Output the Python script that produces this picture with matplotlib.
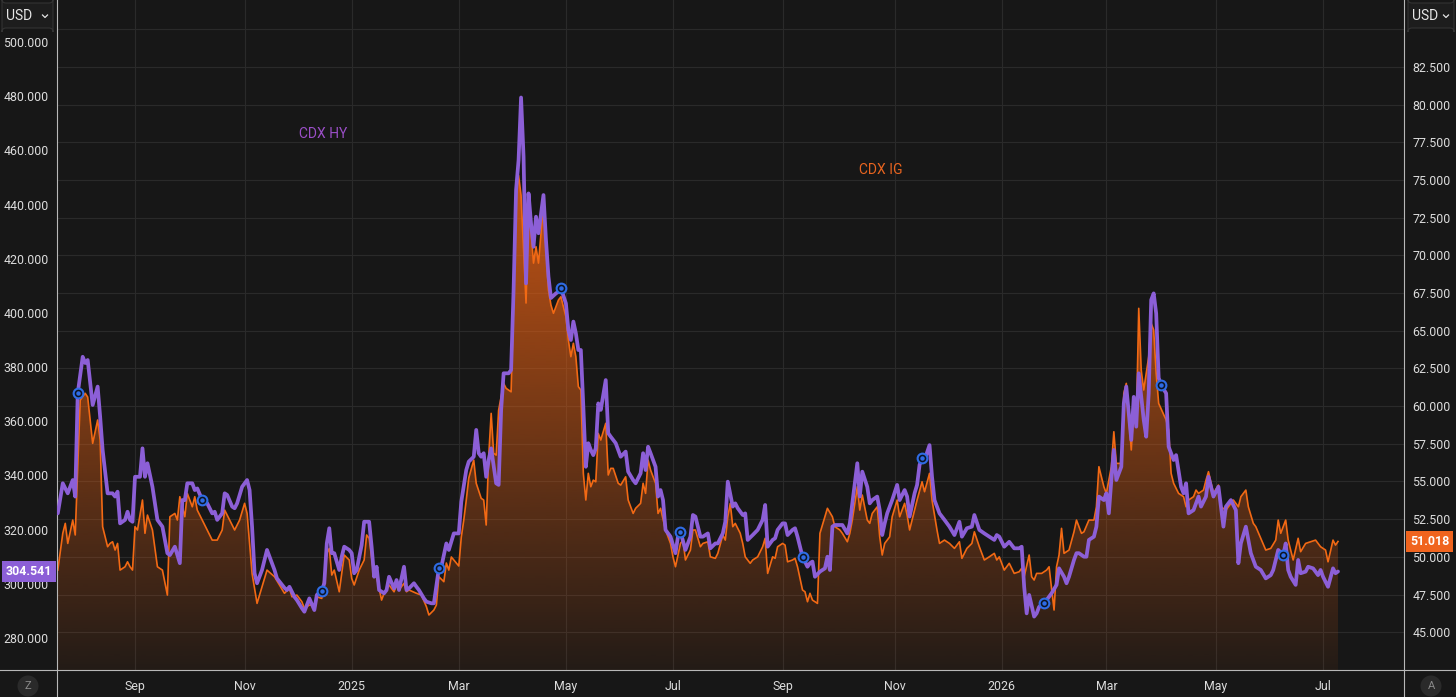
import matplotlib
matplotlib.use('Agg')
import matplotlib.pyplot as plt
import numpy as np
import pandas as pd
from matplotlib import transforms
from matplotlib.colors import to_rgb
from matplotlib.lines import Line2D
from matplotlib.patches import FancyBboxPatch, Ellipse

plt.rcParams['font.family'] = ['Roboto', 'DejaVu Sans']

# ---- data (x = trading session number counted from 2024-07-19) ----
start = '2024-07-19'

hy_day = [0, 2, 4, 6, 7, 8, 10, 11, 12, 14, 16, 17, 18, 20, 22, 23, 24, 25, 27, 28, 29, 30, 31, 33, 34, 35, 36, 38,
          40, 42, 44, 45, 47, 49, 50, 51, 52, 54, 55, 56, 58, 60, 62, 63, 64, 66, 67, 68, 70, 71, 72, 74, 76, 77, 78,
          79, 80, 82, 84, 87, 88, 91, 92, 93, 95, 96, 98, 99, 101, 103, 104, 106, 107, 108, 109, 110, 111, 113, 114,
          115, 117, 118, 119, 120, 122, 123, 125, 126, 127, 128, 129, 131, 132, 133, 135, 136, 137, 139, 140, 141,
          143, 144, 145, 147, 148, 150, 151, 153, 154, 156, 157, 159, 161, 162, 164, 165, 167, 168, 169, 170, 171,
          172, 173, 174, 176, 177, 178, 179, 181, 182, 183, 184, 185, 186, 187, 188, 189, 190, 191, 192, 193, 195,
          196, 197, 198, 200, 201, 202, 204, 205, 206, 207, 208, 209, 210, 211, 212, 213, 214, 215, 216, 217, 218,
          220, 221, 222, 223, 224, 226, 228, 229, 231, 232, 234, 235, 236, 237, 238, 240, 241, 242, 243, 244, 246,
          248, 249, 250, 252, 254, 255, 256, 258, 259, 261, 262, 264, 265, 267, 268, 269, 271, 272, 273, 275, 276,
          277, 279, 281, 283, 284, 285, 287, 288, 289, 291, 292, 293, 295, 296, 297, 299, 301, 302, 303, 304, 306,
          308, 309, 310, 311, 312, 315, 317, 318, 319, 321, 322, 323, 325, 326, 327, 329, 330, 331, 332, 333, 335,
          337, 338, 340, 341, 342, 344, 345, 346, 347, 348, 350, 351, 352, 354, 356, 358, 360, 362, 363, 365, 367,
          368, 370, 372, 374, 376, 377, 378, 380, 382, 384, 386, 387, 388, 389, 390, 392, 393, 394, 396, 397, 399,
          401, 402, 404, 405, 406, 408, 409, 410, 412, 413, 414, 416, 417, 418, 420, 421, 422, 423, 424, 425, 427,
          428, 429, 431, 432, 433, 434, 436, 437, 438, 439, 440, 441, 442, 443, 445, 446, 448, 449, 451, 452, 453,
          454, 456, 458, 459, 461, 462, 464, 466, 468, 469, 471, 473, 474, 475, 477, 478, 479, 481, 483, 485, 487,
          488, 490, 492, 493, 494, 495, 497, 498, 499, 501, 502, 504, 506, 507, 508, 510, 512, 513, 514]
hy_val = [326.0, 337.1, 333.4, 338.3, 332.2, 370.3, 383.8, 381.5, 382.6, 366.0, 372.8, 361.7, 349.4, 333.4, 333.4,
          332.2, 334.0, 322.3, 323.6, 326.6, 323.6, 322.9, 339.5, 339.5, 350.0, 339.5, 344.5, 335.8, 323.6, 321.1,
          311.3, 310.6, 313.7, 307.6, 330.9, 330.9, 337.1, 337.1, 334.6, 335.2, 330.9, 329.7, 326.0, 326.6, 323.6,
          326.0, 333.4, 332.8, 328.5, 327.9, 329.7, 335.8, 338.3, 334.6, 321.1, 303.9, 300.2, 305.1, 312.5, 305.1,
          302.0, 298.5, 297.7, 298.9, 295.2, 294.0, 291.0, 289.7, 294.6, 290.3, 295.9, 297.5, 300.2, 314.9, 320.5,
          311.3, 311.3, 305.1, 310.0, 313.7, 312.5, 311.3, 303.9, 305.1, 314.3, 322.9, 322.9, 313.7, 302.6, 306.3,
          297.7, 296.5, 297.7, 302.6, 298.3, 301.4, 297.7, 306.3, 297.7, 298.3, 300.2, 298.9, 297.7, 294.6, 293.4,
          292.8, 292.8, 305.7, 306.3, 314.9, 312.5, 318.6, 318.6, 330.3, 342.0, 345.1, 346.9, 356.8, 348.2, 346.9,
          348.2, 339.5, 345.7, 350.0, 337.1, 336.5, 364.2, 377.7, 377.7, 378.9, 408.5, 445.4, 456.4, 479.5, 457.7,
          410.9, 444.1, 433.1, 424.4, 435.5, 429.4, 443.5, 426.9, 413.4, 405.5, 407.2, 407.8, 409.1, 403.5, 393.7,
          390.0, 396.8, 392.5, 386.3, 386.3, 365.4, 343.2, 351.9, 349.4, 347.5, 350.0, 366.6, 364.2, 375.2, 355.6,
          354.3, 353.1, 351.9, 346.9, 348.8, 341.4, 338.3, 337.1, 340.8, 348.2, 342.0, 350.6, 348.2, 343.2, 332.2,
          334.6, 330.9, 319.9, 317.4, 311.3, 317.4, 319.2, 312.5, 317.4, 325.4, 324.8, 317.4, 317.4, 318.6, 313.1,
          314.9, 314.9, 318.6, 322.9, 337.7, 328.5, 329.7, 327.9, 325.4, 326.0, 316.2, 318.0, 319.9, 323.6, 329.1,
          313.7, 316.2, 316.8, 319.9, 322.3, 322.3, 318.0, 319.9, 320.5, 317.4, 310.0, 306.3, 307.6, 308.2, 302.6,
          304.5, 305.7, 310.0, 305.1, 321.1, 321.7, 321.7, 318.6, 322.3, 329.7, 344.5, 332.2, 341.4, 335.8, 329.7,
          330.9, 332.2, 327.2, 318.0, 322.3, 326.0, 330.9, 336.5, 330.9, 334.6, 332.2, 324.8, 333.4, 336.5, 343.9,
          346.3, 345.7, 351.2, 339.5, 330.9, 326.0, 323.6, 321.1, 318.0, 322.9, 317.4, 320.5, 321.1, 325.4, 319.9,
          318.6, 317.4, 316.2, 318.0, 317.4, 313.7, 315.5, 313.1, 313.1, 313.7, 298.9, 289.1, 295.9, 287.9, 289.1,
          291.5, 292.8, 294.0, 296.5, 299.6, 305.7, 302.6, 300.2, 302.6, 308.8, 311.3, 311.3, 310.0, 310.0, 316.2,
          317.4, 321.1, 332.2, 330.9, 333.4, 326.0, 338.3, 349.4, 338.3, 343.2, 366.6, 372.8, 353.1, 369.0, 358.0,
          377.7, 360.5, 354.3, 370.3, 404.8, 407.2, 399.8, 376.0, 373.4, 370.3, 350.6, 345.7, 347.5, 335.8, 333.4,
          337.1, 326.0, 327.2, 332.2, 328.5, 332.2, 339.5, 332.2, 335.8, 321.1, 328.5, 330.9, 327.2, 307.6, 314.9,
          321.1, 316.2, 311.3, 306.3, 305.1, 302.0, 303.2, 305.1, 312.5, 310.6, 314.9, 305.1, 302.6, 299.6, 308.8,
          303.9, 304.5, 306.3, 305.7, 303.2, 305.1, 302.6, 298.9, 305.7, 303.9, 304.541]

ig_day = [0, 2, 3, 4, 6, 7, 8, 9, 11, 12, 14, 16, 17, 18, 20, 21, 22, 23, 24, 25, 27, 28, 29, 30, 31, 32, 34, 35,
          36, 38, 40, 42, 44, 45, 47, 48, 49, 51, 52, 54, 55, 56, 58, 60, 62, 64, 66, 67, 69, 71, 73, 75, 76, 78, 80,
          82, 84, 87, 91, 93, 94, 96, 98, 99, 101, 103, 104, 106, 108, 109, 110, 111, 113, 115, 117, 118, 119, 121,
          123, 124, 125, 127, 128, 130, 131, 133, 135, 136, 137, 139, 140, 141, 144, 146, 148, 149, 151, 152, 153,
          155, 156, 157, 158, 159, 160, 161, 162, 163, 164, 165, 167, 168, 170, 171, 172, 173, 174, 175, 176, 177,
          179, 180, 182, 183, 184, 185, 186, 187, 188, 189, 190, 191, 192, 193, 195, 196, 197, 198, 199, 200, 201,
          202, 204, 205, 206, 207, 208, 209, 210, 211, 212, 213, 214, 215, 216, 217, 218, 220, 221, 222, 223, 225,
          226, 228, 229, 231, 232, 234, 235, 236, 237, 238, 240, 241, 242, 244, 246, 247, 248, 250, 251, 252, 254,
          255, 256, 258, 259, 261, 262, 264, 265, 267, 268, 269, 270, 271, 272, 274, 275, 276, 278, 279, 281, 283,
          284, 285, 287, 288, 289, 291, 292, 293, 295, 296, 297, 299, 300, 301, 302, 303, 305, 306, 307, 309, 311,
          312, 314, 315, 317, 318, 319, 321, 322, 323, 325, 326, 327, 329, 330, 331, 332, 334, 335, 337, 338, 340,
          341, 342, 344, 345, 347, 348, 350, 351, 353, 354, 356, 358, 360, 362, 363, 365, 367, 368, 370, 372, 374,
          376, 377, 378, 380, 382, 384, 386, 387, 388, 390, 391, 392, 393, 395, 397, 398, 400, 401, 402, 403, 404,
          406, 408, 409, 411, 412, 414, 416, 417, 418, 420, 421, 423, 424, 425, 427, 428, 429, 431, 432, 433, 434,
          435, 436, 438, 439, 440, 441, 442, 445, 446, 447, 448, 450, 452, 453, 454, 456, 457, 458, 460, 461, 462,
          464, 466, 467, 469, 470, 472, 474, 475, 477, 478, 480, 481, 483, 485, 487, 489, 490, 491, 493, 494, 496,
          498, 499, 501, 503, 505, 507, 509, 510, 512, 513, 514]
ig_val = [49.12, 51.56, 52.22, 50.89, 52.44, 51.45, 55.98, 60.40, 60.85, 60.6, 57.53, 59.08, 57.75, 52.0, 50.67,
          50.89, 51.0, 50.45, 50.89, 49.12, 49.34, 49.67, 49.34, 49.12, 52.0, 51.78, 53.77, 51.56, 52.77, 51.78,
          49.34, 49.12, 47.46, 52.66, 52.88, 52.44, 53.99, 52.66, 54.21, 53.32, 53.99, 53.1, 52.44, 51.78, 51.11,
          51.11, 51.78, 53.1, 52.44, 51.78, 52.44, 53.55, 52.88, 48.90, 46.91, 48.01, 49.12, 48.68, 47.58, 47.91,
          47.35, 47.46, 47.02, 46.58, 46.80, 46.80, 47.35, 47.24, 50.23, 50.56, 48.79, 49.12, 47.68, 50.12, 49.79,
          48.57, 48.13, 49.12, 49.79, 51.45, 51.23, 48.68, 48.68, 47.13, 47.58, 48.13, 47.68, 48.13, 47.80, 48.24,
          47.68, 47.80, 47.58, 47.46, 46.69, 46.14, 46.47, 46.80, 48.68, 48.35, 49.59, 49.12, 49.99, 49.79, 49.59,
          49.39, 51.31, 52.44, 53.77, 55.23, 56.42, 54.88, 53.88, 53.77, 52.11, 56.64, 59.52, 56.87, 56.75, 59.74,
          61.51, 61.18, 60.95, 67.04, 74.01, 75.3, 74.0, 70.36, 66.84, 73.01, 71.68, 69.49, 70.58, 69.49, 73.46,
          70.58, 67.7, 66.71, 66.16, 66.59, 67.04, 67.26, 65.93, 64.38, 63.28, 64.17, 63.28, 61.29, 61.07, 55.54,
          53.77, 55.54, 54.65, 55.09, 54.98, 58.19, 57.75, 58.86, 55.43, 55.87, 55.87, 54.88, 54.76, 55.31, 53.77,
          52.88, 53.22, 53.55, 54.88, 54.21, 56.42, 55.76, 54.88, 52.88, 53.22, 51.78, 50.89, 50.0, 49.34, 50.89,
          51.11, 49.79, 50.45, 51.78, 51.78, 50.67, 50.89, 51.0, 50.0, 49.90, 50.23, 51.45, 51.11, 52.66, 53.55,
          52.0, 52.22, 51.56, 50.89, 50.0, 49.57, 49.79, 50.0, 50.67, 51.23, 48.90, 50.0, 49.90, 50.67, 50.89,
          50.78, 49.67, 49.79, 49.90, 49.34, 47.80, 47.68, 47.02, 47.58, 47.13, 46.91, 51.56, 52.11, 53.22, 52.66,
          52.0, 51.78, 51.56, 51.0, 51.56, 52.44, 54.65, 53.1, 54.10, 52.44, 52.22, 52.88, 53.32, 51.33, 50.12,
          50.89, 51.33, 52.66, 53.77, 52.66, 53.55, 52.77, 51.78, 53.1, 53.77, 54.98, 54.32, 55.54, 53.77, 51.78,
          50.89, 51.11, 50.89, 50.56, 51.0, 49.90, 50.56, 50.89, 51.66, 50.67, 49.79, 50.0, 50.23, 49.79, 50.0,
          49.12, 49.57, 48.90, 49.01, 49.24, 48.68, 50.12, 48.68, 48.46, 48.90, 48.90, 49.12, 49.34, 46.47, 49.34,
          50.12, 51.89, 50.23, 50.45, 51.66, 52.44, 51.56, 51.66, 52.44, 52.44, 53.32, 55.98, 54.65, 54.21, 55.98,
          58.30, 56.20, 56.20, 60.85, 61.51, 57.09, 59.96, 58.63, 66.49, 62.39, 61.07, 63.28, 65.49, 65.05, 62.17,
          60.18, 59.08, 58.41, 55.54, 54.88, 54.21, 53.99, 53.32, 53.77, 53.99, 54.43, 54.21, 54.43, 55.09, 55.65,
          54.21, 54.76, 53.32, 53.1, 53.32, 53.77, 53.32, 53.99, 54.43, 53.32, 52.22, 52.0, 51.23, 50.45, 50.56,
          51.11, 52.44, 51.56, 52.44, 51.11, 49.79, 51.23, 50.34, 50.89, 51.0, 51.11, 50.67, 50.45, 49.67, 51.11,
          50.78, 51.018]

marker_days = [8, 58, 106, 153, 202, 250, 299, 347, 396, 443, 492]

tick_months = ['2024-09', '2024-11', '2025-01', '2025-03', '2025-05', '2025-07',
               '2025-09', '2025-11', '2026-01', '2026-03', '2026-05', '2026-07']
tick_labels = ['Sep', 'Nov', '2025', 'Mar', 'May', 'Jul', 'Sep', 'Nov', '2026', 'Mar', 'May', 'Jul']
hy_ticks = [280, 300, 320, 340, 360, 380, 400, 420, 440, 460, 480, 500]
ig_ticks = [45, 47.5, 50, 52.5, 55, 57.5, 60, 62.5, 65, 67.5, 70, 72.5, 75, 77.5, 80, 82.5, 85]

# ---- style ----
BG = '#171717'
GRID = '#2a2a2a'
AXC = '#b8b8b8'
TXT = '#dcdcdc'
PURPLE = '#8c5fd7'
ORANGE = '#f26914'
W, H = 1456, 697
FS = 8.9

fig = plt.figure(figsize=(W / 100, H / 100), dpi=100)
fig.patch.set_facecolor(BG)
# pixel coordinates measured from the top-left corner
pix = transforms.Affine2D().scale(1 / W, -1 / H).translate(0, 1) + fig.transFigure

ax = fig.add_axes([57 / W, 27 / H, (1404 - 57) / W, 670 / H])
ax2 = ax.twinx()
ax.set_zorder(2)
ax2.set_zorder(1)
ax.patch.set_visible(False)
ax2.patch.set_visible(True)
ax2.patch.set_facecolor(BG)
for a in (ax, ax2):
    for s in a.spines.values():
        s.set_visible(False)

sessions = pd.bdate_range(start, periods=560)
tick_pos = [sessions.searchsorted(pd.Timestamp(m + '-01')) for m in tick_months]

xlim = (-0.32, 540.5)
hy_lim = (268.18, 515.5)
ig_lim = (42.49, 86.95)

# IG: gradient area + line (lower layer)
poly = ax2.fill_between(ig_day, ig_val, ig_lim[0], facecolor='none', edgecolor='none')
n = 256
grad = np.zeros((n, 1, 4))
grad[..., :3] = to_rgb('#f06414')
grad[:, 0, 3] = np.clip(0.06 + np.linspace(0, 1, n), 0, 0.85)
im = ax2.imshow(grad, extent=[xlim[0], xlim[1], ig_lim[0], ig_lim[1]], origin='lower',
                aspect='auto', interpolation='bilinear', zorder=2)
im.set_clip_path(poly.get_paths()[0], transform=ax2.transData)
ax2.plot(ig_day, ig_val, color=ORANGE, lw=1.2, zorder=3, solid_joinstyle='round')

# HY line + markers (upper layer)
ax.plot(hy_day, hy_val, color=PURPLE, lw=2.7, zorder=3, solid_joinstyle='round', solid_capstyle='round')
hy_lookup = dict(zip(hy_day, hy_val))
marker_vals = [hy_lookup[d] for d in marker_days]
ax.plot(marker_days, marker_vals, 'o', ms=7, mfc='#0c1424', mec='#2f6ce5', mew=1.5, zorder=5)
ax.plot(marker_days, marker_vals, 'o', ms=2.2, color='#2f6ce5', zorder=6)

ax.set_xlim(*xlim)
ax.set_ylim(*hy_lim)
ax2.set_ylim(*ig_lim)

ax.set_xticks(tick_pos)
ax.set_xticklabels(tick_labels)
ax.set_yticks(hy_ticks)
ax.set_yticklabels([f'{v:.3f}' for v in hy_ticks])
ax2.set_yticks(ig_ticks)
ax2.set_yticklabels([f'{v:.3f}' if v < 85 else '' for v in ig_ticks])

ax.tick_params(axis='x', length=0, pad=7, colors=TXT, labelsize=FS)
ax.tick_params(axis='y', length=0, pad=6, colors=TXT, labelsize=FS)
ax2.tick_params(axis='y', length=0, pad=6, colors=TXT, labelsize=FS)

ax2.xaxis.set_visible(True)
ax2.tick_params(axis='x', bottom=False, top=False, labelbottom=False, labeltop=False)
ax2.grid(True, color=GRID, lw=0.8)
ax.grid(False)

# series names
fig.text(323 / W, 1 - 134 / H, 'CDX HY', color='#9b4fc8', fontsize=10, ha='center', va='center')
fig.text(881 / W, 1 - 170 / H, 'CDX IG', color='#e8641f', fontsize=10, ha='center', va='center')

# last-value tags
bl = transforms.blended_transform_factory(fig.transFigure, ax.transData)
ax.text(52 / W, hy_val[-1], f'{hy_val[-1]:.3f}', transform=bl, ha='right', va='center',
        color='white', fontsize=FS, fontweight='bold', zorder=10,
        bbox=dict(boxstyle='square,pad=0.32', fc=PURPLE, ec='none'))
br = transforms.blended_transform_factory(fig.transFigure, ax2.transData)
ax2.text(1410 / W, ig_val[-1], f'{ig_val[-1]:.3f}', transform=br, ha='left', va='center',
         color='white', fontsize=FS, fontweight='bold', zorder=10,
         bbox=dict(boxstyle='square,pad=0.32', fc='#f0641e', ec='none'))

# frame lines
fig.add_artist(Line2D([57, 57], [0, H], transform=pix, color=AXC, lw=0.8))
fig.add_artist(Line2D([1404, 1404], [0, H], transform=pix, color=AXC, lw=0.8))
fig.add_artist(Line2D([0, W], [670, 670], transform=pix, color=AXC, lw=0.8))

# currency buttons
for x0, w in [(2, 51), (1408, 46)]:
    fig.add_artist(FancyBboxPatch((x0, 28), w, -25, boxstyle='round,pad=0,rounding_size=4',
                                  transform=pix, fc='#1d1d1d', ec='#333333', lw=0.8))
    fig.text((x0 + 4) / W, 1 - 16 / H, 'USD', color='#e6e6e6', fontsize=10, ha='left', va='center')
    cx = x0 + w - 8
    fig.add_artist(Line2D([cx - 2.5, cx, cx + 2.5], [15, 17.5, 15], transform=pix, color='#e6e6e6', lw=0.9))

# bottom corner buttons
for cx, lab in [(28, 'Z'), (1431, 'A')]:
    fig.add_artist(Ellipse((cx / W, 1 - 686 / H), 21 / W, 21 / H, transform=fig.transFigure,
                           fc='#2a2a2a', ec='none'))
    fig.text(cx / W, 1 - 686 / H, lab, color='#8a8a8a', fontsize=8, ha='center', va='center')

fig.savefig('out.png', dpi=100, facecolor=BG)
